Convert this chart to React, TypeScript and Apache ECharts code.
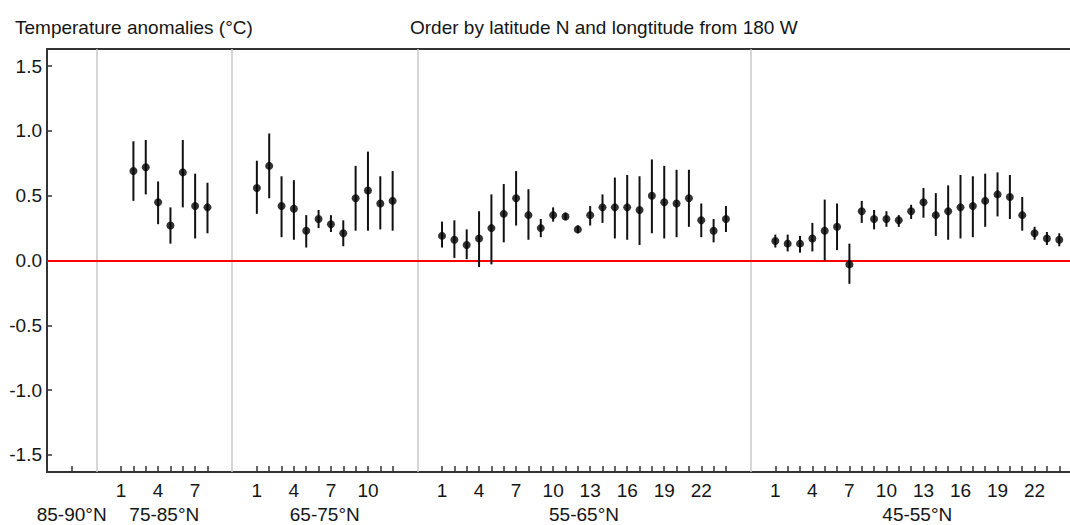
import React, { useEffect, useRef } from "react";
import * as echarts from "echarts";

// Latitude bands, left to right, with per-site anomaly means and interval bounds (°C).
const bandNames = ["85-90°N", "75-85°N", "65-75°N", "55-65°N", "45-55°N"];

const mean8590: (number | null)[] = [null];
const low8590: (number | null)[] = [null];
const high8590: (number | null)[] = [null];

const mean7585: (number | null)[] = [null, 0.69, 0.72, 0.45, 0.27, 0.68, 0.42, 0.41];
const low7585: (number | null)[] = [null, 0.46, 0.51, 0.28, 0.13, 0.41, 0.17, 0.21];
const high7585: (number | null)[] = [null, 0.92, 0.93, 0.61, 0.41, 0.93, 0.67, 0.6];

const mean6575 = [0.56, 0.73, 0.42, 0.4, 0.23, 0.32, 0.28, 0.21, 0.48, 0.54, 0.44, 0.46];
const low6575 = [0.36, 0.48, 0.18, 0.16, 0.1, 0.25, 0.22, 0.11, 0.23, 0.23, 0.24, 0.23];
const high6575 = [0.77, 0.98, 0.65, 0.62, 0.35, 0.39, 0.35, 0.31, 0.73, 0.84, 0.65, 0.69];

const mean5565 = [0.19, 0.16, 0.12, 0.17, 0.25, 0.36, 0.48, 0.35, 0.25, 0.35, 0.34, 0.24, 0.35, 0.41, 0.41, 0.41, 0.39, 0.5, 0.45, 0.44, 0.48, 0.31, 0.23, 0.32];
const low5565 = [0.1, 0.02, 0.01, -0.05, -0.03, 0.14, 0.27, 0.16, 0.18, 0.3, 0.31, 0.21, 0.27, 0.29, 0.17, 0.16, 0.12, 0.21, 0.17, 0.18, 0.26, 0.18, 0.14, 0.22];
const high5565 = [0.3, 0.31, 0.24, 0.38, 0.51, 0.59, 0.69, 0.55, 0.32, 0.41, 0.37, 0.27, 0.42, 0.51, 0.64, 0.66, 0.65, 0.78, 0.73, 0.7, 0.7, 0.44, 0.32, 0.42];

const mean4555 = [0.15, 0.13, 0.13, 0.17, 0.23, 0.26, -0.03, 0.38, 0.32, 0.32, 0.31, 0.38, 0.45, 0.35, 0.38, 0.41, 0.42, 0.46, 0.51, 0.49, 0.35, 0.21, 0.17, 0.16];
const low4555 = [0.1, 0.07, 0.06, 0.07, 0.0, 0.08, -0.18, 0.29, 0.24, 0.26, 0.26, 0.32, 0.33, 0.19, 0.16, 0.17, 0.18, 0.26, 0.34, 0.32, 0.23, 0.16, 0.12, 0.11];
const high4555 = [0.2, 0.2, 0.19, 0.29, 0.47, 0.44, 0.13, 0.46, 0.39, 0.38, 0.35, 0.43, 0.56, 0.52, 0.58, 0.66, 0.65, 0.67, 0.68, 0.66, 0.49, 0.26, 0.22, 0.21];

const yTicks = [-1.5, -1.0, -0.5, 0.0, 0.5, 1.0, 1.5];

const bands = [
  { mean: mean8590, low: low8590, high: high8590 },
  { mean: mean7585, low: low7585, high: high7585 },
  { mean: mean6575, low: low6575, high: high6575 },
  { mean: mean5565, low: low5565, high: high5565 },
  { mean: mean4555, low: low4555, high: high4555 },
];

const FONT = "'Liberation Sans', Arial, sans-serif";
const FONT_SIZE = 19;
const TEXT = "#151515";
const AXIS = "#333";

export default function App() {
  const ref = useRef<HTMLDivElement>(null);

  useEffect(() => {
    if (!ref.current) return;
    const chart = echarts.init(ref.current, undefined, { renderer: "svg" });

    // Slot layout along the x axis: bands separated by a gap of 4 slots.
    const firstSlot = 2;
    const bandGap = 4;
    const tickPos: number[] = [];
    const tickLabel = new Map<number, string>();
    const bandCenter: number[] = [];
    const separators: number[] = [];
    const points: number[][] = [];
    const bars: number[][] = [];

    let pos = firstSlot;
    bands.forEach((b, bi) => {
      const start = pos;
      b.mean.forEach((m, i) => {
        tickPos.push(pos);
        if (b.mean.length > 1 && i % 3 === 0) tickLabel.set(pos, String(i + 1));
        const lo = b.low[i];
        const hi = b.high[i];
        if (m !== null && lo !== null && hi !== null) {
          points.push([pos, m]);
          bars.push([pos, lo, hi]);
        }
        pos += 1;
      });
      const end = pos - 1;
      bandCenter.push((start + end) / 2);
      if (bi < bands.length - 1) {
        separators.push(end + bandGap / 2);
        pos = end + bandGap;
      }
    });

    const xMin = 0;
    const xMax = 82.87;
    const labelStyle = { fontFamily: FONT, fontSize: FONT_SIZE, color: TEXT };

    chart.setOption({
      animation: false,
      title: [
        {
          text: "Temperature anomalies (°C)",
          left: 10,
          top: 13,
          textStyle: { ...labelStyle, fontWeight: "normal" },
        },
        {
          text: "Order by latitude N and longtitude from 180 W",
          left: 405,
          top: 13,
          textStyle: { ...labelStyle, fontWeight: "normal" },
        },
      ],
      grid: { left: 47, right: 0, top: 49, bottom: 53 },
      xAxis: [
        {
          type: "value",
          position: "bottom",
          min: xMin,
          max: xMax,
          axisLine: { show: true, onZero: false, lineStyle: { color: AXIS, width: 2 } },
          axisTick: {
            show: true,
            inside: true,
            length: 6,
            customValues: tickPos,
            lineStyle: { color: AXIS, width: 1.5 },
          },
          axisLabel: {
            show: true,
            customValues: Array.from(tickLabel.keys()),
            formatter: (v: number) => tickLabel.get(v) ?? "",
            margin: 9,
            ...labelStyle,
          },
          splitLine: { show: false },
        },
        {
          type: "value",
          position: "bottom",
          offset: 24,
          min: xMin,
          max: xMax,
          axisLine: { show: false, onZero: false },
          axisTick: { show: false },
          axisLabel: {
            show: true,
            customValues: bandCenter,
            formatter: (v: number) => {
              const idx = bandCenter.findIndex((c) => Math.abs(c - v) < 1e-6);
              return idx >= 0 ? bandNames[idx] : "";
            },
            margin: 9,
            ...labelStyle,
          },
          splitLine: { show: false },
        },
        {
          type: "value",
          position: "top",
          min: xMin,
          max: xMax,
          axisLine: { show: true, onZero: false, lineStyle: { color: AXIS, width: 2 } },
          axisTick: { show: false },
          axisLabel: { show: false },
          splitLine: { show: false },
        },
      ],
      yAxis: {
        type: "value",
        min: -1.632,
        max: 1.632,
        axisLine: { show: true, onZero: false, lineStyle: { color: AXIS, width: 2 } },
        axisTick: {
          show: true,
          inside: true,
          length: 5,
          customValues: yTicks,
          lineStyle: { color: AXIS, width: 1.5 },
        },
        axisLabel: {
          customValues: yTicks,
          formatter: (v: number) => v.toFixed(1),
          margin: 5,
          ...labelStyle,
        },
        splitLine: { show: false },
      },
      series: [
        {
          type: "custom",
          name: "interval",
          xAxisIndex: 0,
          data: bars,
          renderItem: (_params: any, api: any) => {
            const x = api.value(0);
            const p1 = api.coord([x, api.value(1)]);
            const p2 = api.coord([x, api.value(2)]);
            return {
              type: "line",
              shape: { x1: p1[0], y1: p1[1], x2: p2[0], y2: p2[1] },
              style: { stroke: "#111", lineWidth: 2 },
            };
          },
          markLine: {
            silent: true,
            symbol: "none",
            label: { show: false },
            z: 1,
            data: [
              ...separators.map((s) => ({ xAxis: s, lineStyle: { color: "#c8c8c8", width: 1.5, type: "solid" } })),
              { yAxis: 0, lineStyle: { color: "#ff0000", width: 2, type: "solid" } },
            ],
          },
          z: 3,
        },
        {
          type: "scatter",
          name: "mean",
          xAxisIndex: 0,
          data: points,
          symbol: "circle",
          symbolSize: 8,
          itemStyle: { color: "#000" },
          z: 4,
        },
      ],
    });

    return () => chart.dispose();
  }, []);

  return (
    <div
      ref={ref}
      style={{ position: "fixed", left: 0, top: 0, width: 1070, height: 525, background: "#fff" }}
    />
  );
}
